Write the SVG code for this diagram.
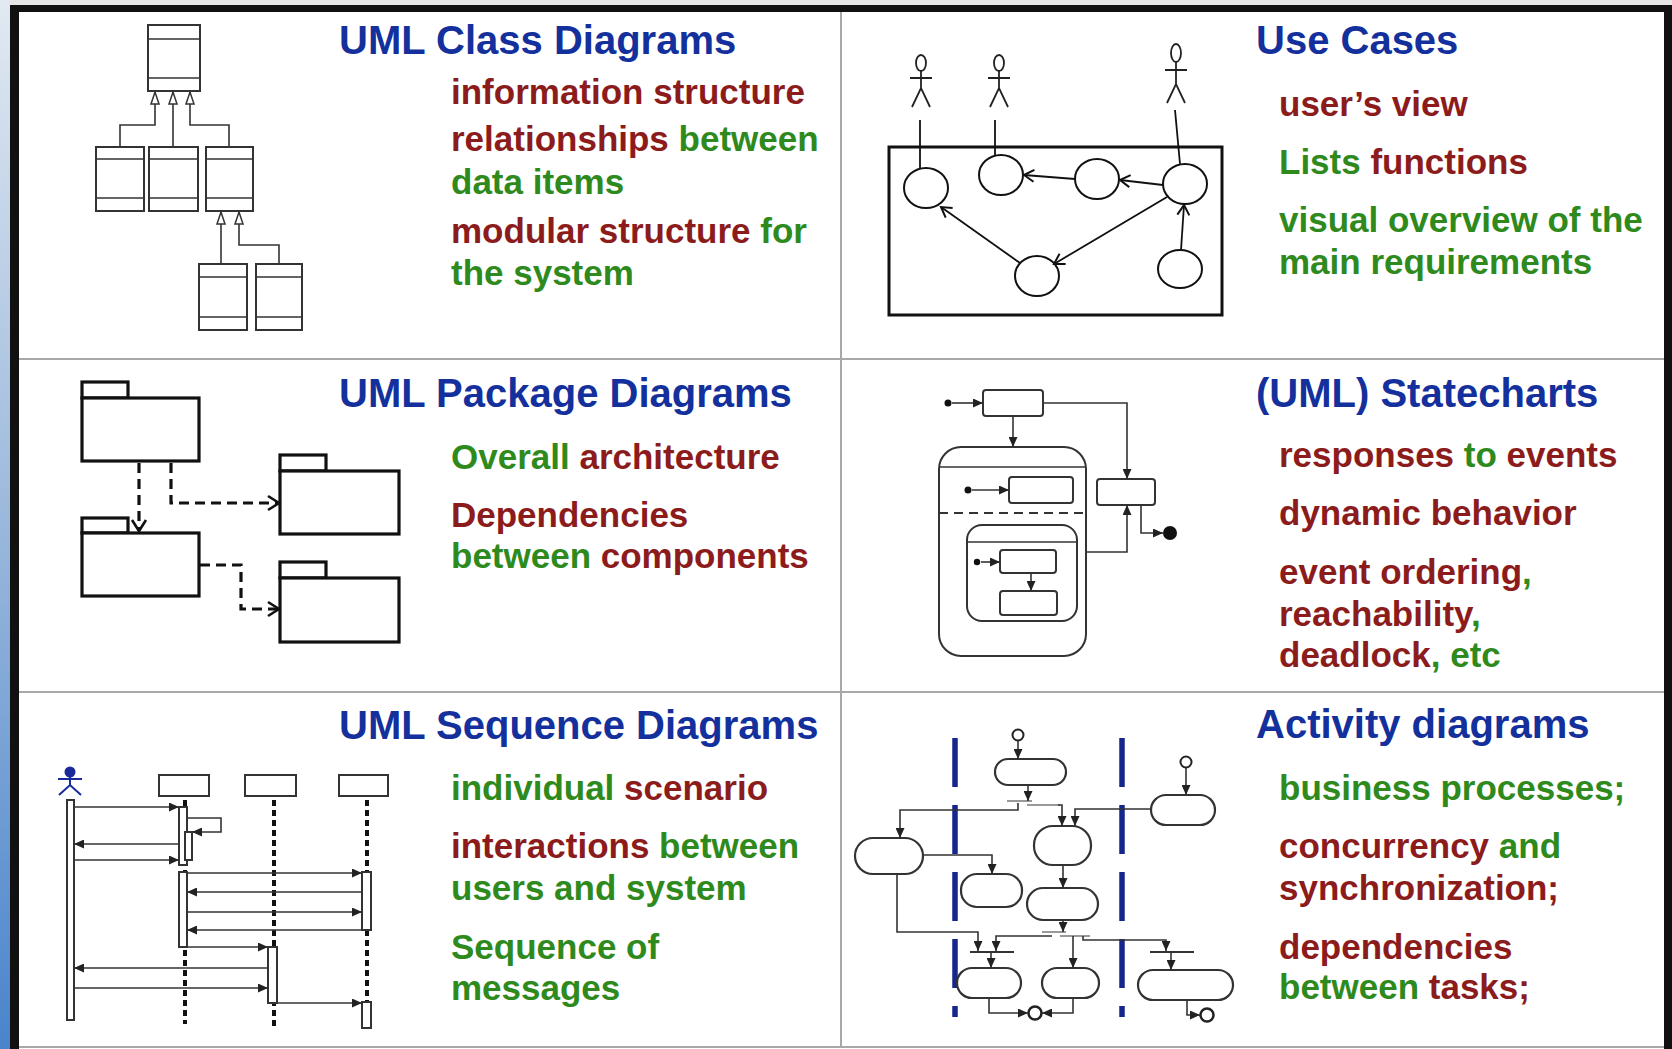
<svg xmlns="http://www.w3.org/2000/svg" width="1672" height="1049" viewBox="0 0 1672 1049">
<style>
.t{font-family:"Liberation Sans",Arial,sans-serif;font-size:40px;font-weight:bold;fill:#14309c}
.b{font-family:"Liberation Sans",Arial,sans-serif;font-size:35px;font-weight:bold}
.r{fill:#8c1c1c}.g{fill:#2f8a1d}
.ln{fill:none;stroke:#333;stroke-width:1.6}
.bx{fill:#fff;stroke:#333;stroke-width:2}
.uc{fill:#fff;stroke:#111;stroke-width:2}
.pk{fill:#fff;stroke:#111;stroke-width:3.2}
.dsh{fill:none;stroke:#111;stroke-width:3.2;stroke-dasharray:10 6}
.ll{fill:none;stroke:#111;stroke-width:4;stroke-dasharray:6 4}
.act{fill:#fff;stroke:#333;stroke-width:2.2}
.lane{fill:none;stroke:#16268c;stroke-width:5.5;stroke-dasharray:49 18}
.grid{fill:none;stroke:#a8a8a8;stroke-width:2}
</style>
<defs>
<linearGradient id="side" x1="0" y1="0" x2="0" y2="1">
<stop offset="0" stop-color="#e2e9f2"/><stop offset="0.5" stop-color="#9ab8dc"/><stop offset="1" stop-color="#4a84cc"/>
</linearGradient>
<marker id="gen" viewBox="0 0 12 8" refX="12" refY="4" markerWidth="12" markerHeight="8" markerUnits="userSpaceOnUse" orient="auto" overflow="visible"><path d="M0,0 L12,4 L0,8 Z" fill="#fff" stroke="#333" stroke-width="1.5"/></marker>
<marker id="tri" viewBox="0 0 10 9" refX="10" refY="4.5" markerWidth="10" markerHeight="9" markerUnits="userSpaceOnUse" orient="auto"><path d="M0,0 L10,4.5 L0,9 Z" fill="#222"/></marker>
<marker id="opn" viewBox="0 0 10 12" refX="10" refY="6" markerWidth="10" markerHeight="12" markerUnits="userSpaceOnUse" orient="auto" overflow="visible"><path d="M0,0 L10,6 L0,12" fill="none" stroke="#111" stroke-width="2"/></marker>
<marker id="opnb" viewBox="0 0 11 14" refX="11" refY="7" markerWidth="11" markerHeight="14" markerUnits="userSpaceOnUse" orient="auto" overflow="visible"><path d="M0,0 L11,7 L0,14" fill="none" stroke="#111" stroke-width="2.6"/></marker>
</defs>

<!-- background and frame -->
<rect x="0" y="0" width="1672" height="1049" fill="#fff"/>
<rect x="0" y="0" width="1672" height="5" fill="#e6e6e6"/>
<rect x="0" y="0" width="10" height="1049" fill="url(#side)"/>
<rect x="10" y="5" width="9" height="1044" fill="#111"/>
<rect x="10" y="5" width="1662" height="7" fill="#111"/>
<rect x="1664" y="5" width="8" height="1044" fill="#111"/>
<g id="grid">
<line class="grid" x1="841" y1="12" x2="841" y2="1047"/>
<line class="grid" x1="19" y1="359" x2="1664" y2="359"/>
<line class="grid" x1="19" y1="692" x2="1664" y2="692"/>
<line class="grid" x1="19" y1="1047" x2="1664" y2="1047"/>
</g>

<!-- Panel 1: UML Class Diagrams -->
<g id="panel-class">
<g id="class-nodes">
<g id="c-top"><rect class="bx" x="148" y="25" width="52" height="66"/><path class="ln" d="M148,39 H200 M148,78 H200"/></g>
<g id="c-m1"><rect class="bx" x="96" y="147" width="48" height="64"/><path class="ln" d="M96,159 H144 M96,198 H144"/></g>
<g id="c-m2"><rect class="bx" x="149" y="147" width="49" height="64"/><path class="ln" d="M149,159 H198 M149,198 H198"/></g>
<g id="c-m3"><rect class="bx" x="206" y="147" width="47" height="64"/><path class="ln" d="M206,159 H253 M206,198 H253"/></g>
<g id="c-b1"><rect class="bx" x="199" y="264" width="48" height="66"/><path class="ln" d="M199,277 H247 M199,317 H247"/></g>
<g id="c-b2"><rect class="bx" x="256" y="264" width="46" height="66"/><path class="ln" d="M256,277 H302 M256,317 H302"/></g>
</g>
<g id="class-connectors">
<path class="ln" d="M120,147 V125 H155 V92" marker-end="url(#gen)"/>
<path class="ln" d="M173,147 V92" marker-end="url(#gen)"/>
<path class="ln" d="M229,147 V125 H190 V92" marker-end="url(#gen)"/>
<path class="ln" d="M221,264 V212" marker-end="url(#gen)"/>
<path class="ln" d="M279,264 V245 H239 V212" marker-end="url(#gen)"/>
</g>
<g id="class-text">
<text class="t" x="339" y="54">UML Class Diagrams</text>
<text class="b" x="451" y="104"><tspan class="r">information structure</tspan></text>
<text class="b" x="451" y="151"><tspan class="r">relationships</tspan><tspan class="g"> between</tspan></text>
<text class="b" x="451" y="194"><tspan class="g">data items</tspan></text>
<text class="b" x="451" y="243"><tspan class="r">modular structure</tspan><tspan class="g"> for</tspan></text>
<text class="b" x="451" y="285"><tspan class="g">the system</tspan></text>
</g>
</g>

<!-- Panel 2: Use Cases -->
<g id="panel-usecase">
<g id="uc-nodes">
<rect id="uc-system" x="889" y="147" width="333" height="168" fill="none" stroke="#111" stroke-width="3"/>
<g id="actor1" class="ln" style="stroke:#222;stroke-width:1.8"><ellipse cx="921" cy="63" rx="5" ry="8"/><path d="M921,71 V88 M910,78 H932 M912,107 L921,88 L930,107"/></g>
<g id="actor2" class="ln" style="stroke:#222;stroke-width:1.8"><ellipse cx="999" cy="63" rx="5" ry="8"/><path d="M999,71 V88 M988,78 H1010 M990,107 L999,88 L1008,107"/></g>
<g id="actor3" class="ln" style="stroke:#222;stroke-width:1.8"><ellipse cx="1176" cy="53" rx="5" ry="9"/><path d="M1176,62 V84 M1165,70 H1187 M1167,103 L1176,84 L1185,103"/></g>
<ellipse id="uc1" class="uc" cx="926" cy="188" rx="22" ry="20"/>
<ellipse id="uc2" class="uc" cx="1001" cy="175" rx="22" ry="20"/>
<ellipse id="uc3" class="uc" cx="1097" cy="179" rx="22" ry="20"/>
<ellipse id="uc4" class="uc" cx="1185" cy="184" rx="22" ry="20"/>
<ellipse id="uc5" class="uc" cx="1037" cy="276" rx="22" ry="20"/>
<ellipse id="uc6" class="uc" cx="1180" cy="269" rx="22" ry="19"/>
</g>
<g id="uc-connectors" fill="none" stroke="#111" stroke-width="1.8">
<path d="M920,120 V168"/>
<path d="M995,120 V155"/>
<path d="M1175,110 L1180,164"/>
<path d="M1075,179 L1024,175" marker-end="url(#opn)"/>
<path d="M1163,185 L1120,180" marker-end="url(#opn)"/>
<path d="M1167,197 L1054,264" marker-end="url(#opn)"/>
<path d="M1020,263 L941,207" marker-end="url(#opn)"/>
<path d="M1181,250 L1184,205" marker-end="url(#opn)"/>
</g>
<g id="uc-text">
<text class="t" x="1256" y="54">Use Cases</text>
<text class="b" x="1279" y="116"><tspan class="r">user’s view</tspan></text>
<text class="b" x="1279" y="174"><tspan class="g">Lists</tspan><tspan class="r"> functions</tspan></text>
<text class="b" x="1279" y="232"><tspan class="g">visual overview of the</tspan></text>
<text class="b" x="1279" y="274"><tspan class="g">main requirements</tspan></text>
</g>
</g>

<!-- Panel 3: UML Package Diagrams -->
<g id="panel-package">
<g id="pk1"><rect class="pk" x="82" y="382" width="46" height="16"/><rect class="pk" x="82" y="398" width="117" height="63"/></g>
<g id="pk2"><rect class="pk" x="82" y="518" width="46" height="15"/><rect class="pk" x="82" y="533" width="117" height="63"/></g>
<g id="pk3"><rect class="pk" x="280" y="455" width="46" height="16"/><rect class="pk" x="280" y="471" width="119" height="63"/></g>
<g id="pk4"><rect class="pk" x="280" y="562" width="46" height="16"/><rect class="pk" x="280" y="578" width="119" height="64"/></g>
<g id="pk-connectors">
<path class="dsh" d="M139,463 V531" marker-end="url(#opnb)"/>
<path class="dsh" d="M171,463 V503 H279" marker-end="url(#opnb)"/>
<path class="dsh" d="M200,565 H241 V609 H279" marker-end="url(#opnb)"/>
</g>
<g id="pk-text">
<text class="t" x="339" y="407">UML Package Diagrams</text>
<text class="b" x="451" y="469"><tspan class="g">Overall</tspan><tspan class="r"> architecture</tspan></text>
<text class="b" x="451" y="527"><tspan class="r">Dependencies</tspan></text>
<text class="b" x="451" y="568"><tspan class="g">between</tspan><tspan class="r"> components</tspan></text>
</g>
</g>

<!-- Panel 4: Statecharts -->
<g id="panel-state">
<g id="st-nodes">
<circle cx="948" cy="403" r="3.5" fill="#111"/>
<rect id="st-a" class="bx" x="983" y="390" width="60" height="26" rx="3"/>
<g id="st-composite"><rect class="bx" x="939" y="447" width="147" height="209" rx="22"/><path class="ln" d="M939,467 H1086"/><path d="M939,513 H1086" fill="none" stroke="#333" stroke-width="2" stroke-dasharray="9 6"/></g>
<circle cx="968" cy="490" r="3.5" fill="#111"/>
<rect id="st-c" class="bx" x="1009" y="477" width="64" height="26" rx="3"/>
<g id="st-inner"><rect class="bx" x="967" y="525" width="110" height="96" rx="15"/><path class="ln" d="M967,542 H1077"/></g>
<circle cx="977" cy="562" r="3.2" fill="#111"/>
<rect id="st-d" class="bx" x="1000" y="550" width="56" height="23" rx="3"/>
<rect id="st-e" class="bx" x="1000" y="591" width="57" height="24" rx="3"/>
<rect id="st-b" class="bx" x="1097" y="479" width="58" height="26" rx="3"/>
<circle cx="1170" cy="533" r="7" fill="#111"/>
</g>
<g id="st-connectors">
<path class="ln" d="M952,403 H983" marker-end="url(#tri)"/>
<path class="ln" d="M1013,416 V447" marker-end="url(#tri)"/>
<path class="ln" d="M1043,403 H1127 V479" marker-end="url(#tri)"/>
<path class="ln" d="M972,490 H1009" marker-end="url(#tri)"/>
<path class="ln" d="M981,562 H1000" marker-end="url(#tri)"/>
<path class="ln" d="M1031,573 V591" marker-end="url(#tri)"/>
<path class="ln" d="M1086,552 H1127 V505" marker-end="url(#tri)"/>
<path class="ln" d="M1141,505 V533 H1163" marker-end="url(#tri)"/>
</g>
<g id="st-text">
<text class="t" x="1256" y="407">(UML) Statecharts</text>
<text class="b" x="1279" y="467"><tspan class="r">responses</tspan><tspan class="g"> to</tspan><tspan class="r"> events</tspan></text>
<text class="b" x="1279" y="525"><tspan class="r">dynamic behavior</tspan></text>
<text class="b" x="1279" y="584"><tspan class="r">event ordering</tspan><tspan class="g">,</tspan></text>
<text class="b" x="1279" y="626"><tspan class="r">reachability</tspan><tspan class="g">,</tspan></text>
<text class="b" x="1279" y="667"><tspan class="r">deadlock</tspan><tspan class="g">, etc</tspan></text>
</g>
</g>

<!-- Panel 5: Sequence Diagrams -->
<g id="panel-sequence">
<g id="sq-actor" fill="none" stroke="#1a2a9a" stroke-width="2"><circle cx="70" cy="772" r="4.5" fill="#1a2a9a"/><path d="M70,776 V785 M58,779 H82 M59,795 L70,785 L81,795"/></g>
<g id="sq-objects">
<rect class="bx" x="159" y="775" width="50" height="21"/>
<rect class="bx" x="245" y="775" width="51" height="21"/>
<rect class="bx" x="339" y="775" width="49" height="21"/>
</g>
<g id="sq-lifelines">
<path class="ll" d="M185,800 V1024"/>
<path class="ll" d="M274,800 V1030"/>
<path class="ll" d="M367,800 V1020"/>
</g>
<g id="sq-activations">
<rect class="bx" x="67" y="800" width="7" height="220"/>
<rect class="bx" x="179" y="807" width="8" height="58"/>
<rect class="bx" x="185" y="832" width="7" height="28"/>
<rect class="bx" x="179" y="872" width="8" height="75"/>
<rect class="bx" x="268" y="947" width="9" height="56"/>
<rect class="bx" x="362" y="872" width="9" height="58"/>
<rect class="bx" x="362" y="1002" width="9" height="26"/>
</g>
<g id="sq-connectors">
<path class="ln" d="M74,807 H179" marker-end="url(#tri)"/>
<path class="ln" d="M187,818 H221 V832 H192" marker-end="url(#tri)"/>
<path class="ln" d="M179,844 H74" marker-end="url(#tri)"/>
<path class="ln" d="M74,860 H179" marker-end="url(#tri)"/>
<path class="ln" d="M187,873 H362" marker-end="url(#tri)"/>
<path class="ln" d="M362,892 H187" marker-end="url(#tri)"/>
<path class="ln" d="M187,912 H362" marker-end="url(#tri)"/>
<path class="ln" d="M362,930 H187" marker-end="url(#tri)"/>
<path class="ln" d="M187,947 H268" marker-end="url(#tri)"/>
<path class="ln" d="M268,968 H74" marker-end="url(#tri)"/>
<path class="ln" d="M74,988 H268" marker-end="url(#tri)"/>
<path class="ln" d="M277,1003 H362" marker-end="url(#tri)"/>
</g>
<g id="sq-text">
<text class="t" x="339" y="739">UML Sequence Diagrams</text>
<text class="b" x="451" y="800"><tspan class="g">individual</tspan><tspan class="r"> scenario</tspan></text>
<text class="b" x="451" y="858"><tspan class="r">interactions</tspan><tspan class="g"> between</tspan></text>
<text class="b" x="451" y="900"><tspan class="g">users and system</tspan></text>
<text class="b" x="451" y="959"><tspan class="g">Sequence of</tspan></text>
<text class="b" x="451" y="1000"><tspan class="g">messages</tspan></text>
</g>
</g>

<!-- Panel 6: Activity diagrams -->
<g id="panel-activity">
<g id="ac-lanes">
<path class="lane" d="M955,738 V1017"/>
<path class="lane" d="M1122,738 V1017"/>
</g>
<g id="ac-nodes">
<circle cx="1018" cy="735" r="5.5" fill="#fff" stroke="#222" stroke-width="2"/>
<circle cx="1186" cy="762" r="5.5" fill="#fff" stroke="#222" stroke-width="2"/>
<rect id="act1" class="act" x="995" y="759" width="71" height="26" rx="13"/>
<rect id="act4" class="act" x="1151" y="795" width="64" height="30" rx="15"/>
<rect id="act3" class="act" x="1034" y="826" width="57" height="39" rx="19"/>
<rect id="act2" class="act" x="855" y="838" width="68" height="36" rx="18"/>
<rect id="act5" class="act" x="961" y="874" width="61" height="33" rx="16"/>
<rect id="act6" class="act" x="1027" y="888" width="71" height="32" rx="16"/>
<rect id="act7" class="act" x="957" y="968" width="64" height="30" rx="15"/>
<rect id="act8" class="act" x="1042" y="968" width="57" height="30" rx="15"/>
<rect id="act9" class="act" x="1138" y="970" width="95" height="30" rx="15"/>
<path id="fork1" d="M1007,801 H1032 M1027,805 H1060" fill="none" stroke="#999" stroke-width="2"/>
<path id="fork2" d="M1042,932 H1066 M1060,936 H1090" fill="none" stroke="#999" stroke-width="2"/>
<path id="join1" d="M970,952 H1014" fill="none" stroke="#333" stroke-width="2.2"/>
<path id="join2" d="M1150,952 H1194" fill="none" stroke="#333" stroke-width="2.2"/>
<circle cx="1035" cy="1013" r="6.5" fill="#fff" stroke="#222" stroke-width="2.5"/>
<circle cx="1207" cy="1015" r="6.5" fill="#fff" stroke="#222" stroke-width="2.5"/>
</g>
<g id="ac-connectors">
<path class="ln" d="M1018,741 V759" marker-end="url(#tri)"/>
<path class="ln" d="M1028,785 V801" marker-end="url(#tri)"/>
<path class="ln" d="M1018,803 V810 H900 V838" marker-end="url(#tri)"/>
<path class="ln" d="M1058,805 H1062 V826" marker-end="url(#tri)"/>
<path class="ln" d="M1186,768 V795" marker-end="url(#tri)"/>
<path class="ln" d="M1151,809 H1075 V826" marker-end="url(#tri)"/>
<path class="ln" d="M923,855 H992 V874" marker-end="url(#tri)"/>
<path class="ln" d="M1063,865 V888" marker-end="url(#tri)"/>
<path class="ln" d="M1063,920 V932" marker-end="url(#tri)"/>
<path class="ln" d="M1052,936 H996 V951" marker-end="url(#tri)"/>
<path class="ln" d="M897,874 V932 H978 V951" marker-end="url(#tri)"/>
<path class="ln" d="M991,952 V968" marker-end="url(#tri)"/>
<path class="ln" d="M1073,936 V968" marker-end="url(#tri)"/>
<path class="ln" d="M1083,936 V940 H1166 V951" marker-end="url(#tri)"/>
<path class="ln" d="M1171,952 V970" marker-end="url(#tri)"/>
<path class="ln" d="M989,998 V1013 H1028" marker-end="url(#tri)"/>
<path class="ln" d="M1073,998 V1013 H1042" marker-end="url(#tri)"/>
<path class="ln" d="M1187,1000 V1015 H1200" marker-end="url(#tri)"/>
</g>
<g id="ac-text">
<text class="t" x="1256" y="738">Activity diagrams</text>
<text class="b" x="1279" y="800"><tspan class="g">business processes;</tspan></text>
<text class="b" x="1279" y="858"><tspan class="r">concurrency</tspan><tspan class="g"> and</tspan></text>
<text class="b" x="1279" y="900"><tspan class="r">synchronization;</tspan></text>
<text class="b" x="1279" y="959"><tspan class="r">dependencies</tspan></text>
<text class="b" x="1279" y="999"><tspan class="g">between</tspan><tspan class="r"> tasks;</tspan></text>
</g>
</g>
</svg>
